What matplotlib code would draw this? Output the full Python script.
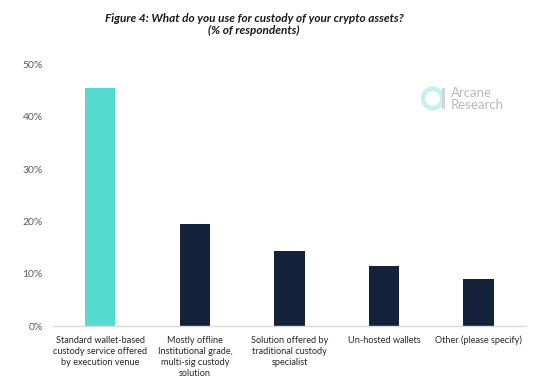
import matplotlib.pyplot as plt
from matplotlib.patches import Circle, Rectangle

# Survey data (% of respondents)
categories = [
    'Standard wallet-based\ncustody service offered\nby execution venue',
    'Mostly offline\nInstitutional grade,\nmulti-sig custody\nsolution',
    'Solution offered by\ntraditional custody\nspecialist',
    'Un-hosted wallets',
    'Other (please specify)',
]
values = [45.5, 19.5, 14.3, 11.5, 9.0]
bar_colors = ['#56D9CE', '#14213A', '#14213A', '#14213A', '#14213A']
y_ticks = [0, 10, 20, 30, 40, 50]
y_tick_labels = ['0%', '10%', '20%', '30%', '40%', '50%']

plt.rcParams['font.family'] = ['Lato', 'DejaVu Sans']

fig = plt.figure(figsize=(5.53, 3.86), dpi=100)
ax = fig.add_axes([0.096, 0.155, 0.855, 0.678])

x = range(len(categories))
ax.bar(x, values, width=0.32, color=bar_colors)

ax.set_xlim(-0.5, len(categories) - 0.5)
ax.set_ylim(0, 50)
ax.set_yticks(y_ticks)
ax.set_yticklabels(y_tick_labels, fontsize=7.5, color='#595959')
ax.set_xticks(list(x))
ax.set_xticklabels(categories, fontsize=6.6, color='#262626', linespacing=1.3)
ax.tick_params(axis='both', length=0)
ax.tick_params(axis='y', pad=7.5)
ax.tick_params(axis='x', pad=7)

for side in ['top', 'right', 'left']:
    ax.spines[side].set_visible(False)
ax.spines['bottom'].set_color('#D9D9D9')
ax.spines['bottom'].set_linewidth(1)

# title
fig.text(0.459, 0.953, 'Figure 4: What do you use for custody of your crypto assets?',
         ha='center', va='center', fontsize=8.5, fontstyle='italic',
         fontweight='bold', color='#1A1A1A')
fig.text(0.459, 0.92, '(% of respondents)', ha='center', va='center',
         fontsize=8.5, fontstyle='italic', fontweight='bold', color='#1A1A1A')

# Arcane Research logo
logo_ax = fig.add_axes([0.76, 0.71, 0.05, 0.07])
logo_ax.set_xlim(0, 1)
logo_ax.set_ylim(0, 1)
logo_ax.set_aspect('equal')
logo_ax.axis('off')
logo_ax.add_patch(Circle((0.45, 0.5), 0.36, fill=False, lw=3.5, ec='#C8F0EC'))
logo_ax.add_patch(Rectangle((0.78, 0.1), 0.14, 0.8, color='#D5D5D5', lw=0))

fig.text(0.815, 0.76, 'Arcane', fontsize=9.5, color='#B8B8BE', va='center')
fig.text(0.815, 0.728, 'Research', fontsize=9.5, color='#B8B8BE', va='center')

fig.savefig('out.png', dpi=100)
